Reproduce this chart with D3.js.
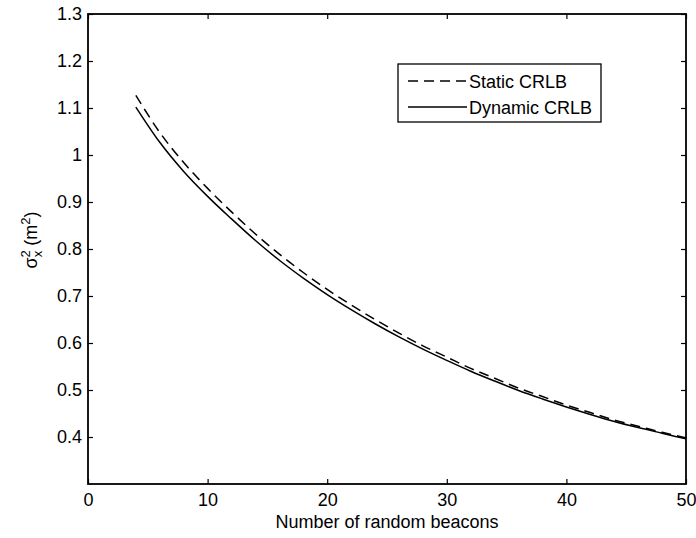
<!DOCTYPE html>
<html><head><meta charset="utf-8">
<script src="https://cdn.jsdelivr.net/npm/d3@7"></script>
<style>body{margin:0;background:#fff}svg{display:block}text{font-family:"Liberation Sans",Arial,sans-serif;fill:#000}</style>
</head><body><svg id="c" width="696" height="538"></svg>
<script>
const beacons = [4,6,8,10,12,14,16,18,20,22,24,26,28,30,32,34,36,38,40,42,44,46,48,50];
const staticCRLB = [1.127,1.048,0.984,0.929,0.879,0.832,0.789,0.750,0.714,0.681,0.650,0.621,0.594,0.570,0.546,0.525,0.504,0.486,0.468,0.452,0.436,0.423,0.410,0.398];
const dynamicCRLB = [1.102,1.027,0.965,0.912,0.864,0.818,0.776,0.738,0.703,0.671,0.641,0.613,0.587,0.563,0.540,0.519,0.499,0.481,0.464,0.448,0.433,0.420,0.408,0.396];
const xTicks = [0,10,20,30,40,50];
const yTicks = [0.4,0.5,0.6,0.7,0.8,0.9,1,1.1,1.2,1.3];
const seriesNames = ["Static CRLB","Dynamic CRLB"];

const L=88,R=686,T=14,B=484;
const FS="18px";
const svg=d3.select("#c");
const x=d3.scaleLinear().domain([0,50]).range([L,R]);
const y=d3.scaleLinear().domain([0.3,1.3]).range([B,T]);

const fmt=d=>String(d);
const ax=(g,a)=>{g.call(a);g.select(".domain").remove();g.selectAll("text").style("font-size",FS).style("font-family","Liberation Sans, Arial, sans-serif");g.selectAll("line").attr("stroke","#000").attr("stroke-width",1.2);};
svg.append("g").attr("transform",`translate(0,${B})`).call(g=>ax(g,d3.axisBottom(x).tickValues(xTicks).tickFormat(fmt).tickSizeInner(-5).tickSizeOuter(0).tickPadding(9)));
svg.append("g").attr("transform",`translate(0,${T})`).call(g=>{ax(g,d3.axisTop(x).tickValues(xTicks).tickSizeInner(-5).tickSizeOuter(0));g.selectAll("text").remove();});
svg.append("g").attr("transform",`translate(${L},0)`).call(g=>ax(g,d3.axisLeft(y).tickValues(yTicks).tickFormat(fmt).tickSizeInner(-5).tickSizeOuter(0).tickPadding(6)));
svg.append("g").attr("transform",`translate(${R},0)`).call(g=>{ax(g,d3.axisRight(y).tickValues(yTicks).tickSizeInner(-5).tickSizeOuter(0));g.selectAll("text").remove();});
svg.append("rect").attr("x",L).attr("y",T).attr("width",R-L).attr("height",B-T).attr("fill","none").attr("stroke","#000").attr("stroke-width",1.8);

const line=d3.line().x((d,i)=>x(beacons[i])).y(d=>y(d)).curve(d3.curveMonotoneX);
svg.append("path").attr("d",line(staticCRLB)).attr("fill","none").attr("stroke","#000").attr("stroke-width",1.5).attr("stroke-dasharray","10,6");
svg.append("path").attr("d",line(dynamicCRLB)).attr("fill","none").attr("stroke","#000").attr("stroke-width",1.5);

// legend
const lg=svg.append("g");
lg.append("rect").attr("x",398).attr("y",64).attr("width",203).attr("height",58).attr("fill","#fff").attr("stroke","#000").attr("stroke-width",1.3);
seriesNames.forEach((n,i)=>{
  const yy=81+i*26;
  lg.append("line").attr("x1",408).attr("x2",467).attr("y1",yy).attr("y2",yy).attr("stroke","#000").attr("stroke-width",1.5).attr("stroke-dasharray",i===0?"10,6":null);
  lg.append("text").attr("x",469).attr("y",yy+7).style("font-size",FS).text(n);
});

// axis labels
svg.append("text").attr("x",(L+R)/2).attr("y",528).attr("text-anchor","middle").style("font-size",FS).text("Number of random beacons");
const yl=svg.append("text").attr("transform","translate(37,240) rotate(-90)").attr("text-anchor","middle").style("font-size",FS);
yl.append("tspan").text("σ");
yl.append("tspan").attr("dy",-7).style("font-size","13px").text("2");
yl.append("tspan").attr("dx",-7).attr("dy",12).style("font-size","13px").text("x");
yl.append("tspan").attr("dy",-5).text(" (m");
yl.append("tspan").attr("dy",-7).style("font-size","13px").text("2");
yl.append("tspan").attr("dy",7).text(")");
</script></body></html>
